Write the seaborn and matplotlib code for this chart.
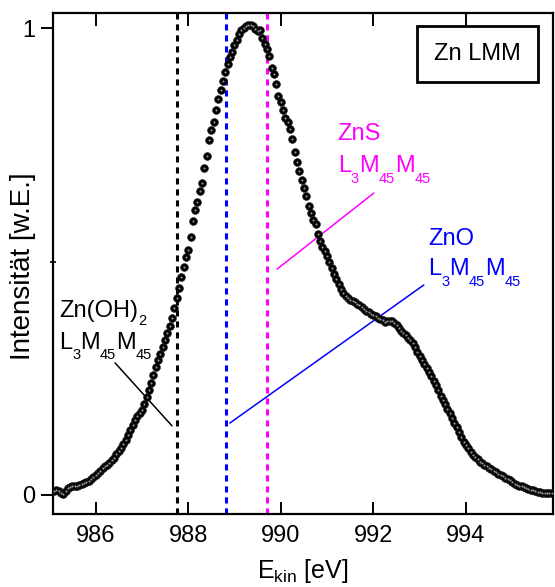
import numpy as np
import pandas as pd
import matplotlib
matplotlib.use("Agg")
import matplotlib.pyplot as plt
import seaborn as sns
from matplotlib.ticker import FixedLocator
from matplotlib.transforms import offset_copy

# ---------------- data ----------------
energy = [
    985.10, 985.15, 985.20, 985.25, 985.30, 985.35, 985.40, 985.45, 985.50, 985.55,
    985.60, 985.65, 985.70, 985.75, 985.80, 985.85, 985.90, 985.95, 986.00, 986.05,
    986.10, 986.15, 986.20, 986.25, 986.30, 986.35, 986.40, 986.45, 986.50, 986.55,
    986.60, 986.65, 986.70, 986.75, 986.80, 986.85, 986.90, 986.95, 987.00, 987.05,
    987.10, 987.15, 987.20, 987.25, 987.30, 987.35, 987.40, 987.45, 987.50, 987.55,
    987.60, 987.65, 987.70, 987.75, 987.80, 987.85, 987.90, 987.95, 988.00, 988.05,
    988.10, 988.15, 988.20, 988.25, 988.30, 988.35, 988.40, 988.45, 988.50, 988.55,
    988.60, 988.65, 988.70, 988.75, 988.80, 988.85, 988.90, 988.95, 989.00, 989.05,
    989.10, 989.15, 989.20, 989.25, 989.30, 989.35, 989.40, 989.45, 989.50, 989.55,
    989.60, 989.65, 989.70, 989.75, 989.80, 989.85, 989.90, 989.95, 990.00, 990.05,
    990.10, 990.15, 990.20, 990.25, 990.30, 990.35, 990.40, 990.45, 990.50, 990.55,
    990.60, 990.65, 990.70, 990.75, 990.80, 990.85, 990.90, 990.95, 991.00, 991.05,
    991.10, 991.15, 991.20, 991.25, 991.30, 991.35, 991.40, 991.45, 991.50, 991.55,
    991.60, 991.65, 991.70, 991.75, 991.80, 991.85, 991.90, 991.95, 992.00, 992.05,
    992.10, 992.15, 992.20, 992.25, 992.30, 992.35, 992.40, 992.45, 992.50, 992.55,
    992.60, 992.65, 992.70, 992.75, 992.80, 992.85, 992.90, 992.95, 993.00, 993.05,
    993.10, 993.15, 993.20, 993.25, 993.30, 993.35, 993.40, 993.45, 993.50, 993.55,
    993.60, 993.65, 993.70, 993.75, 993.80, 993.85, 993.90, 993.95, 994.00, 994.05,
    994.10, 994.15, 994.20, 994.25, 994.30, 994.35, 994.40, 994.45, 994.50, 994.55,
    994.60, 994.65, 994.70, 994.75, 994.80, 994.85, 994.90, 994.95, 995.00, 995.05,
    995.10, 995.15, 995.20, 995.25, 995.30, 995.35, 995.40, 995.45, 995.50, 995.55,
    995.60, 995.65, 995.70, 995.75, 995.80, 995.85,
]
intensity = [
    0.008, 0.010, 0.009, 0.004, 0.001, 0.008, 0.015, 0.017, 0.018, 0.019,
    0.020, 0.021, 0.023, 0.025, 0.028, 0.030, 0.034, 0.038, 0.043, 0.047,
    0.052, 0.057, 0.061, 0.064, 0.068, 0.074, 0.080, 0.087, 0.094, 0.101,
    0.109, 0.118, 0.128, 0.139, 0.150, 0.160, 0.169, 0.175, 0.183, 0.195,
    0.210, 0.225, 0.240, 0.256, 0.274, 0.289, 0.303, 0.317, 0.332, 0.347,
    0.362, 0.380, 0.401, 0.421, 0.444, 0.466, 0.489, 0.509, 0.524, 0.553,
    0.588, 0.610, 0.628, 0.652, 0.669, 0.700, 0.726, 0.760, 0.782, 0.800,
    0.825, 0.848, 0.869, 0.887, 0.906, 0.924, 0.938, 0.950, 0.964, 0.975,
    0.989, 0.997, 1.001, 1.006, 1.008, 1.007, 1.005, 0.998, 0.995, 0.996,
    0.980, 0.967, 0.955, 0.940, 0.915, 0.902, 0.880, 0.856, 0.843, 0.826,
    0.808, 0.799, 0.784, 0.762, 0.736, 0.714, 0.695, 0.675, 0.658, 0.640,
    0.620, 0.604, 0.590, 0.580, 0.560, 0.545, 0.531, 0.522, 0.513, 0.500,
    0.486, 0.474, 0.463, 0.451, 0.441, 0.433, 0.427, 0.421, 0.417, 0.415,
    0.413, 0.410, 0.407, 0.403, 0.399, 0.395, 0.391, 0.388, 0.386, 0.383,
    0.380, 0.378, 0.374, 0.370, 0.372, 0.373, 0.372, 0.369, 0.364, 0.358,
    0.351, 0.346, 0.342, 0.337, 0.332, 0.326, 0.316, 0.306, 0.297, 0.289,
    0.281, 0.272, 0.264, 0.254, 0.245, 0.235, 0.224, 0.213, 0.204, 0.195,
    0.185, 0.175, 0.165, 0.155, 0.145, 0.134, 0.124, 0.114, 0.107, 0.100,
    0.092, 0.086, 0.081, 0.076, 0.071, 0.068, 0.064, 0.061, 0.058, 0.055,
    0.051, 0.048, 0.045, 0.042, 0.040, 0.037, 0.034, 0.031, 0.027, 0.023,
    0.021, 0.019, 0.018, 0.016, 0.015, 0.013, 0.011, 0.010, 0.008, 0.007,
    0.006, 0.005, 0.004, 0.004, 0.003, 0.003,
]

ref_positions = [987.76, 988.81, 989.71]
ref_colors = ["black", "#0000FF", "#FF00FF"]

x_ticks = [986, 988, 990, 992, 994]
y_ticks = [0, 1]
y_ticklabels = ["0", "1"]

# annotations: title segments, transition segments (text, is_subscript)
ann_title_segs = [
    [("Zn(OH)", False), ("2", True)],
    [("ZnO", False)],
    [("ZnS", False)],
]
transition_segs = [("L", False), ("3", True), ("M", False), ("45", True),
                   ("M", False), ("45", True)]
ann_title_xy = [(985.21, 0.382), (993.18, 0.536), (991.23, 0.761)]
ann_sub_xy = [(985.21, 0.313), (993.18, 0.471), (991.23, 0.692)]
ann_line_start = [(986.42, 0.283), (993.09, 0.450), (992.01, 0.647)]
ann_line_end = [(987.65, 0.148), (988.90, 0.154), (989.92, 0.484)]
ann_colors = ["black", "#0000FF", "#FF00FF"]

# ---------------- style ----------------
sns.set_theme(style="ticks")
plt.rcParams["font.family"] = ["Liberation Sans", "DejaVu Sans"]
plt.rcParams["mathtext.fontset"] = "custom"
plt.rcParams["mathtext.rm"] = "Liberation Sans"
plt.rcParams["mathtext.it"] = "Liberation Sans"
plt.rcParams["mathtext.default"] = "regular"
plt.rcParams["text.color"] = "black"
plt.rcParams["axes.labelcolor"] = "black"
plt.rcParams["xtick.color"] = "black"
plt.rcParams["ytick.color"] = "black"
plt.rcParams["axes.edgecolor"] = "black"

df = pd.DataFrame({"E": energy, "I": intensity})

DPI = 100
fig = plt.figure(figsize=(5.55, 5.87), dpi=DPI)
ax = fig.add_axes([53 / 555, 1 - 514 / 587, 500 / 555, 501 / 587])

# reference dashed lines
for pos, col in zip(ref_positions, ref_colors):
    ln = ax.axvline(pos, color=col, lw=2.2, zorder=1)
    ln.set_dashes((2.0, 1.6))

# leader lines
for (x0, y0), (x1, y1), col in zip(ann_line_start, ann_line_end, ann_colors):
    ax.plot([x0, x1], [y0, y1], color=col, lw=1.1, zorder=2)

# data: ball-like markers
sns.scatterplot(data=df, x="E", y="I", ax=ax, s=32, color="black",
                edgecolor="#222222", linewidth=0.4, zorder=3, legend=False)
sns.scatterplot(data=df, x="E", y="I", ax=ax, s=2.2, color="#9a9a9a",
                linewidth=0, zorder=4, legend=False)

fs = 17
ax.set_xlim(985.08, 995.88)
ax.set_ylim(-0.041, 1.033)

renderer = fig.canvas.get_renderer()


def rich_text(x, y, segs, color, sub_drop=0.45):
    dx = 0.0
    for txt, is_sub in segs:
        size = fs * 0.62 if is_sub else fs
        dy = -fs * sub_drop if is_sub else 0.0
        tr = offset_copy(ax.transData, fig=fig, x=dx, y=dy, units="points")
        t = ax.text(x, y, txt, color=color, fontsize=size, ha="left",
                    va="baseline", transform=tr, zorder=5)
        w = t.get_window_extent(renderer=renderer).width
        dx += w * 72.0 / DPI


for segs, (tx, ty), (sx, sy), col in zip(ann_title_segs, ann_title_xy,
                                         ann_sub_xy, ann_colors):
    rich_text(tx, ty, segs, col, sub_drop=0.35)
    rich_text(sx, sy, transition_segs, col, sub_drop=0.45)

ax.text(0.849, 0.918, "Zn LMM", transform=ax.transAxes, fontsize=fs,
        color="black", ha="center", va="center", zorder=6,
        bbox=dict(boxstyle="square,pad=0.72", fc="white", ec="black", lw=2))

ax.set_xticks(x_ticks)
ax.set_xticklabels([str(v) for v in x_ticks])
ax.set_yticks(y_ticks)
ax.set_yticklabels(y_ticklabels)
ax.yaxis.set_minor_locator(FixedLocator([0.5]))

ax.tick_params(axis="x", which="major", direction="in", length=9, width=1.4,
               top=True, labelsize=fs, pad=8, colors="black")
ax.tick_params(axis="y", which="major", direction="out", length=9, width=1.4,
               right=False, labelsize=fs, pad=4, colors="black")
ax.tick_params(axis="y", which="minor", direction="inout", length=5, width=1.2,
               colors="black")

for sp in ax.spines.values():
    sp.set_linewidth(1.6)
    sp.set_color("black")
    sp.set_visible(True)

ax.set_xlabel("E$_{kin}$ [eV]", fontsize=18, labelpad=7, color="black")
ax.set_ylabel("Intensität [w.E.]", fontsize=20, color="black")
ax.yaxis.set_label_coords(-0.034, 0.494)

fig.savefig("out.png", dpi=DPI)
